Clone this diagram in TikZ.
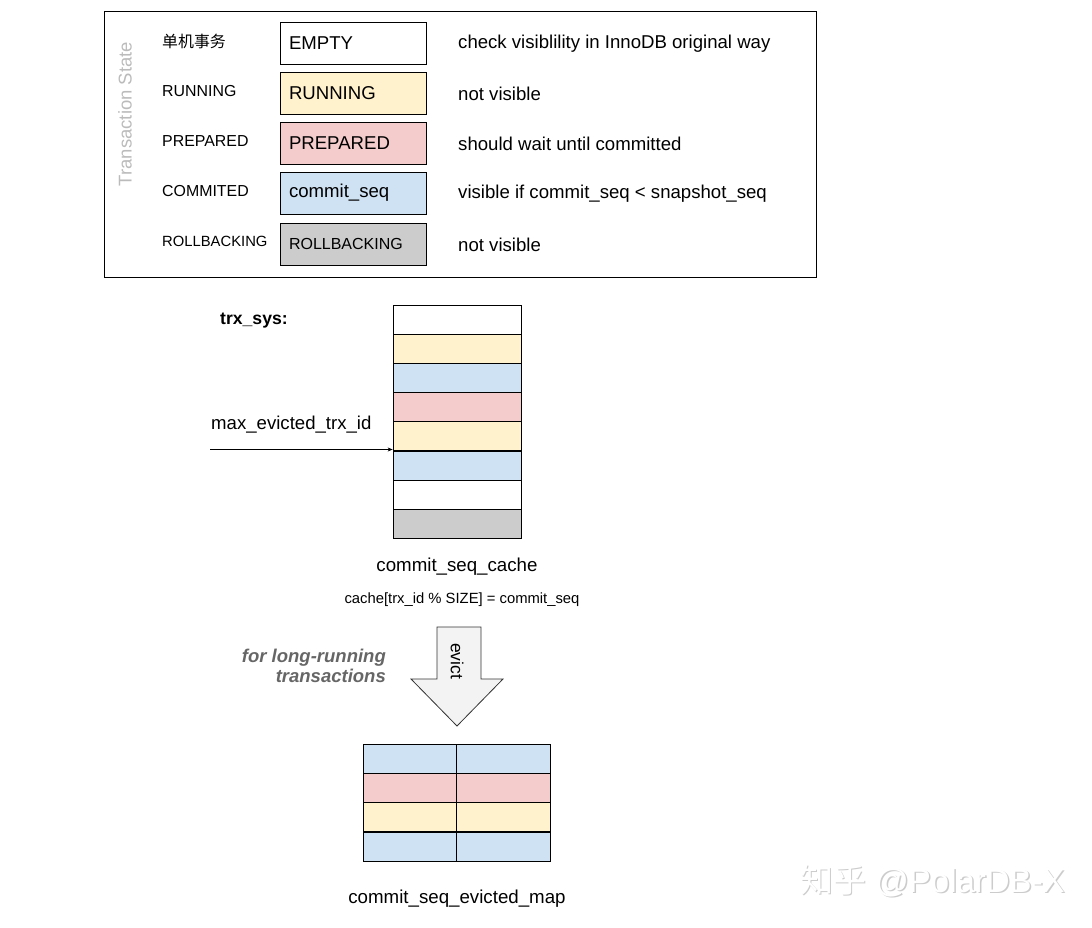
\documentclass[tikz,border=0pt]{standalone}
\usepackage{fontspec}
\setmainfont{Liberation Sans}
\newfontfamily\cjk{Noto Sans CJK SC}
\usetikzlibrary{arrows.meta}
\definecolor{cyel}{HTML}{FFF2CC}
\definecolor{cred}{HTML}{F4CCCC}
\definecolor{cblu}{HTML}{CFE2F3}
\definecolor{cgry}{HTML}{CCCCCC}
\definecolor{arrfill}{HTML}{F3F3F3}
\definecolor{labgray}{HTML}{666666}
\definecolor{tsgray}{HTML}{BBBBBB}
\newcommand{\fs}[1]{\fontsize{#1}{#1}\selectfont}
\tikzset{
  x=1pt,y=-1pt,
  statebox/.style={draw=black, line width=0.8pt, minimum width=146pt, minimum height=42pt, inner sep=0pt, text width=128pt, align=left},
  leftlab/.style={anchor=west, inner sep=0pt, font=\fs{15.9}},
  desc/.style={anchor=west, inner sep=0pt, font=\fs{18.6}},
  cell/.style={draw=black, line width=0.7pt, minimum width=128pt, minimum height=29pt, inner sep=0pt},
  mcell/.style={draw=black, line width=0.7pt, minimum width=94pt, minimum height=29pt, inner sep=0pt},
}
\begin{document}
\begin{tikzpicture}
\useasboundingbox (0,0) rectangle (1092,928);
% legend frame
\node[draw=black, line width=0.8pt, minimum width=712pt, minimum height=266pt, inner sep=0pt, anchor=north west] (frame) at (104,11) {};
\node[rotate=90, text=tsgray, font=\fs{18.5}, inner sep=0pt] (ts) at (125,114) {Transaction State};
% left labels
\node[leftlab] (l1) at (162,41) {\cjk 单机事务};
\node[leftlab] (l2) at (162,91) {RUNNING};
\node[leftlab] (l3) at (162,141) {PREPARED};
\node[leftlab] (l4) at (162,191) {COMMITED};
\node[leftlab, font=\fs{14.8}] (l5) at (162,241) {ROLLBACKING};
% boxes
\node[statebox, fill=white, font=\fs{18.6}] (b1) at (353,43.5) {EMPTY};
\node[statebox, fill=cyel, font=\fs{18.6}] (b2) at (353,93) {RUNNING};
\node[statebox, fill=cred, font=\fs{18.6}] (b3) at (353,143) {PREPARED};
\node[statebox, fill=cblu, font=\fs{18.6}] (b4) at (353,193) {commit\_seq};
\node[statebox, fill=cgry, font=\fs{16}] (b5) at (353,244) {ROLLBACKING};
% descriptions
\node[desc] (d1) at (458,44) {check visiblility in InnoDB original way};
\node[desc] (d2) at (458,93.5) {not visible};
\node[desc] (d3) at (458,143.5) {should wait until committed};
\node[desc] (d4) at (458,193.5) {visible if commit\_seq < snapshot\_seq};
\node[desc] (d5) at (458,244.5) {not visible};
% trx_sys
\node[anchor=west, inner sep=0pt, font=\fs{17.6}\bfseries] (trx) at (220,321) {trx\_sys:};
% cache column
\node[cell, fill=white] (c1) at (457,319.5) {};
\node[cell, fill=cyel] (c2) at (457,348.5) {};
\node[cell, fill=cblu] (c3) at (457,377.5) {};
\node[cell, fill=cred] (c4) at (457,406.5) {};
\node[cell, fill=cyel] (c5) at (457,436) {};
\node[cell, fill=cblu] (c6) at (457,465.5) {};
\node[cell, fill=white] (c7) at (457,494.5) {};
\node[cell, fill=cgry] (c8) at (457,523.5) {};
% max evicted arrow
\coordinate (as) at (210,449.5);
\node[anchor=west, inner sep=0pt, font=\fs{18.6}] (mx) at (211,424.5) {max\_evicted\_trx\_id};
\draw[line width=0.7pt, -{Stealth[length=5pt,width=4pt]}] (as) -- (c6.north west |- as);
\node[font=\fs{18.7}, inner sep=0pt] (cachelab) at (457,567) {commit\_seq\_cache};
\node[font=\fs{14.8}, inner sep=0pt] (formula) at (462,599.5) {cache[trx\_id \% SIZE] = commit\_seq};
% evict arrow
\draw[line width=0.8pt, draw=black!80, fill=arrfill, line join=miter]
  (437,627) -- (481,627) -- (481,679) -- (503,679) -- (457,726) -- (411,679) -- (437,679) -- cycle;
\node[rotate=-90, font=\fs{17.5}, inner sep=0pt] (evict) at (457,661) {evict};
\node[align=right, anchor=east, text=labgray, font=\fs{18.5}\bfseries\itshape, inner sep=0pt] (long) at (386,666) {for long-running\\[2pt]transactions};
% evicted map
\node[mcell, fill=cblu] (m11) at (410,758.5) {};
\node[mcell, fill=cblu] (m12) at (503.5,758.5) {};
\node[mcell, fill=cred] (m21) at (410,787.5) {};
\node[mcell, fill=cred] (m22) at (503.5,787.5) {};
\node[mcell, fill=cyel] (m31) at (410,817) {};
\node[mcell, fill=cyel] (m32) at (503.5,817) {};
\node[mcell, fill=cblu] (m41) at (410,846.5) {};
\node[mcell, fill=cblu] (m42) at (503.5,846.5) {};
\node[font=\fs{18.7}, inner sep=0pt] (maplab) at (457,899) {commit\_seq\_evicted\_map};
% watermark
\node[font=\fs{33}, text=black!20, inner sep=0pt] (wm2) at (934,882) {{\cjk 知乎} @PolarDB-X};
\node[font=\fs{33}, text=white, inner sep=0pt] (wm) at (932.5,880.5) {{\cjk 知乎} @PolarDB-X};
\end{tikzpicture}
\end{document}
